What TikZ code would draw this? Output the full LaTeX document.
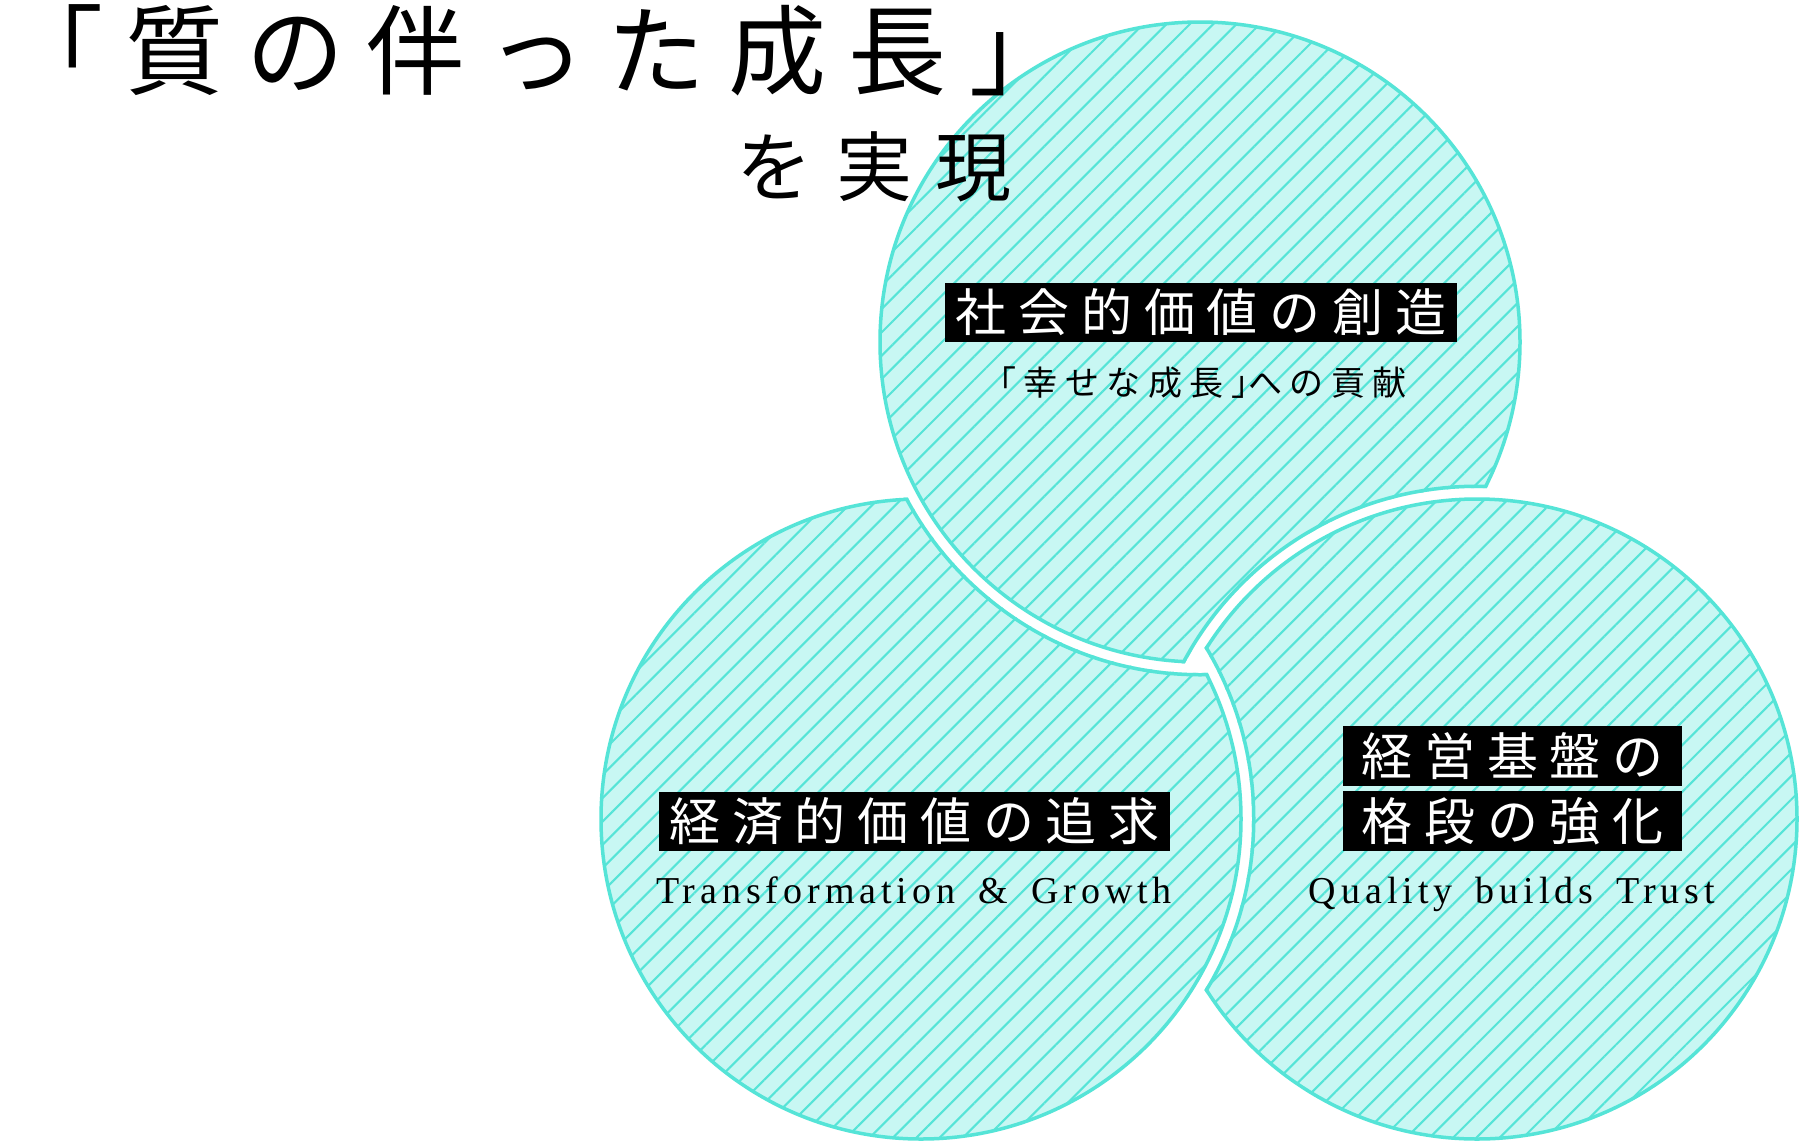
\documentclass[tikz,border=0pt]{standalone}
\usepackage{fontspec}
\setmainfont{Liberation Serif}
\newfontfamily\jpfont{Noto Sans CJK JP}
\newfontfamily\mottofont[WordSpace=1.6]{Liberation Serif}
\usepackage{xcolor}
\definecolor{mint}{HTML}{C8F7F3}
\definecolor{aqua}{HTML}{55E4D7}
\usetikzlibrary{patterns.meta}

\begin{document}
\begin{tikzpicture}[
    x=1pt, y=-1pt,
    hatch/.style={pattern={Lines[angle=45, distance=16.5pt, line width=2.1pt]}, pattern color=aqua},
    rim/.style={draw=aqua, line width=3.5pt},
    plate/.style={fill=black, text=white, inner sep=0pt, minimum height=59pt,
        font=\jpfont\fontsize{51}{51}\selectfont\addfontfeature{LetterSpace=23}},
    motto/.style={font=\mottofont\fontsize{38}{38}\selectfont\addfontfeature{LetterSpace=13}},
]
\useasboundingbox (0,0) rectangle (1800,1144);
\fill[white] (0,0) rectangle (1800,1144);

% -- circle centres --
\coordinate (top) at (1200,342);
\coordinate (left) at (921,819);
\coordinate (right) at (1477,819);

% -- top circle, cut by the right one --
\begin{scope}[even odd rule]
  \clip (0,0) rectangle (1800,1144) (right) circle[radius=331pt];
  \fill[mint] (top) circle[radius=320pt];
  \fill[hatch] (top) circle[radius=320pt];
  \draw[rim] (top) circle[radius=320pt];
  \clip (top) circle[radius=321.75pt];
  \draw[rim] (right) circle[radius=332.75pt];
\end{scope}

% -- left circle, cut by the top one --
\begin{scope}[even odd rule]
  \clip (0,0) rectangle (1800,1144) (top) circle[radius=331pt];
  \fill[mint] (left) circle[radius=320pt];
  \fill[hatch] (left) circle[radius=320pt];
  \draw[rim] (left) circle[radius=320pt];
  \clip (left) circle[radius=321.75pt];
  \draw[rim] (top) circle[radius=332.75pt];
\end{scope}

% -- right circle, cut by the left one --
\begin{scope}[even odd rule]
  \clip (0,0) rectangle (1800,1144) (left) circle[radius=331pt];
  \fill[mint] (right) circle[radius=320pt];
  \fill[hatch] (right) circle[radius=320pt];
  \draw[rim] (right) circle[radius=320pt];
  \clip (right) circle[radius=321.75pt];
  \draw[rim] (left) circle[radius=332.75pt];
\end{scope}

% -- headline --
\node[anchor=base west, inner sep=0pt,
      font=\jpfont\fontsize{98}{98}\selectfont\addfontfeature{LetterSpace=23}]
      (headline) at (5,87) {「質の伴った成長」};
\node[anchor=base east, inner sep=0pt,
      font=\jpfont\fontsize{76}{76}\selectfont\addfontfeature{LetterSpace=31}]
      (realise) at (1012,195) {を実現};

% -- labels --
\node[plate, minimum width=512pt] (social) at (1201,312.5) {社会的価値の創造};
\node[anchor=base east, inner sep=0pt,
      font=\jpfont\fontsize{34}{34}\selectfont\addfontfeature{LetterSpace=22}]
      (socialsub) at (1407,395) {「幸せな成長」\kern-0.5em への貢献};

\node[plate, minimum width=511pt] (economic) at (914.5,821.5) {経済的価値の追求};
\node[motto, anchor=base, inner sep=0pt] (economicsub) at (914,903) {Transformation \& Growth};

\node[plate, minimum width=339pt, minimum height=60pt] (base) at (1512.5,756) {経営基盤の};
\node[plate, minimum width=339pt, minimum height=60pt] (boost) at (1512.5,821) {格段の強化};
\node[motto, anchor=base, inner sep=0pt] (basesub) at (1512,903) {Quality builds Trust};
\end{tikzpicture}
\end{document}
